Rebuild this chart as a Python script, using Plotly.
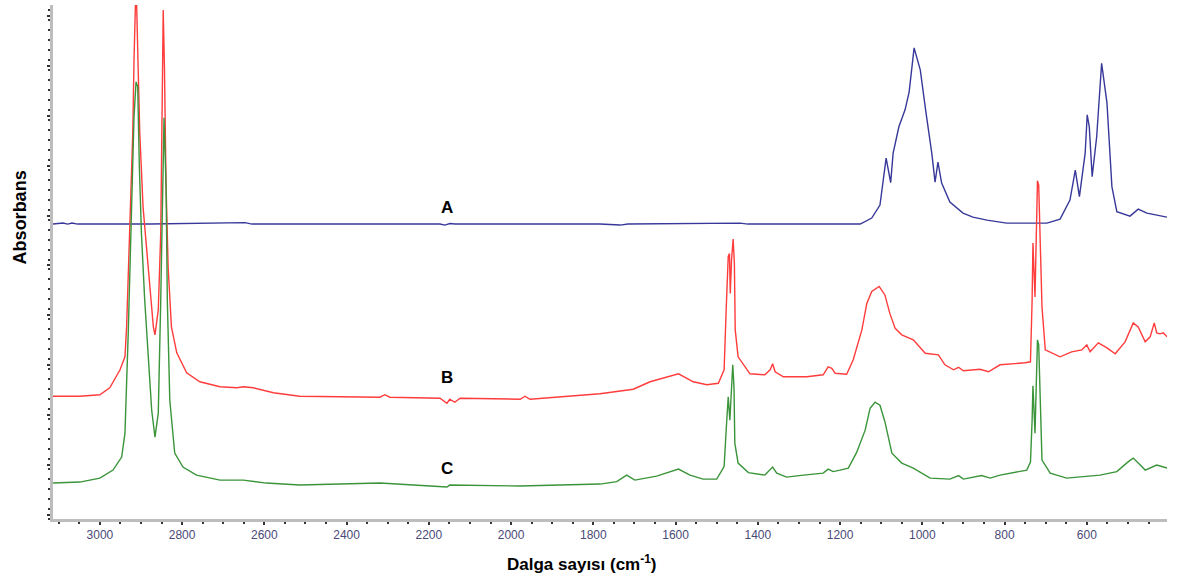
import plotly.graph_objects as go

# FTIR spectra: wavenumber (cm-1) and absorbance (offset, arbitrary units)
wn_a = [3114, 3090, 3078, 3068, 3054, 3000, 2878, 2647, 2630, 2173, 2161, 2149, 2136,
        1784, 1735, 1716, 1443, 1424, 1200, 1151, 1123, 1103, 1088, 1077, 1071, 1057,
        1042, 1032, 1020, 1005, 991, 977, 969, 962, 953, 933, 901, 877, 843, 795, 746,
        697, 665, 641, 628, 618, 604, 599, 594, 587, 576, 564, 551, 539, 527, 495, 475,
        454, 405]
abs_a = [5.91, 5.93, 5.91, 5.93, 5.91, 5.91, 5.91, 5.94, 5.91, 5.91, 5.89, 5.92, 5.91,
         5.91, 5.89, 5.91, 5.93, 5.91, 5.91, 5.91, 6.03, 6.29, 7.23, 6.74, 7.33, 7.86,
         8.20, 8.56, 9.44, 9.00, 8.14, 7.33, 6.75, 7.15, 6.73, 6.35, 6.13, 6.05, 5.99,
         5.93, 5.93, 5.93, 6.01, 6.39, 6.99, 6.46, 7.33, 8.10, 7.86, 6.86, 7.66, 9.13,
         8.34, 6.66, 6.16, 6.07, 6.21, 6.13, 6.05]

wn_b = [3114, 3049, 3000, 2976, 2951, 2939, 2935, 2927, 2920, 2917, 2912, 2907, 2903,
        2895, 2886, 2878, 2870, 2866, 2858, 2852, 2849, 2846, 2843, 2839, 2834, 2826,
        2813, 2789, 2757, 2708, 2667, 2651, 2627, 2578, 2514, 2319, 2307, 2295, 2173,
        2156, 2149, 2137, 2124, 1978, 1966, 1954, 1784, 1703, 1662, 1593, 1557, 1524,
        1496, 1482, 1477, 1472, 1469, 1467, 1464, 1460, 1457, 1455, 1448, 1419, 1383,
        1370, 1364, 1358, 1338, 1281, 1241, 1229, 1220, 1212, 1184, 1168, 1147, 1135,
        1123, 1105, 1091, 1079, 1066, 1050, 1022, 993, 961, 945, 924, 912, 900, 860,
        839, 811, 750, 737, 733, 731, 726, 720, 717, 709, 701, 665, 637, 612, 600, 592,
        572, 551, 531, 507, 487, 475, 458, 446, 436, 430, 422, 414, 405]
abs_b = [2.46, 2.46, 2.49, 2.63, 2.99, 3.25, 3.85, 5.73, 7.74, 9.20, 10.80, 9.06, 7.74,
         6.25, 5.33, 4.53, 3.85, 3.69, 4.19, 5.73, 8.40, 10.20, 9.06, 6.65, 5.05, 3.85,
         3.33, 2.93, 2.75, 2.65, 2.63, 2.65, 2.63, 2.53, 2.46, 2.44, 2.49, 2.44, 2.42,
         2.32, 2.40, 2.34, 2.42, 2.40, 2.46, 2.40, 2.51, 2.60, 2.75, 2.91, 2.75, 2.69,
         2.72, 2.99, 4.19, 5.26, 5.32, 4.52, 5.19, 5.61, 5.12, 3.79, 3.25, 2.91, 2.89,
         2.99, 3.11, 2.95, 2.85, 2.85, 2.89, 3.05, 3.02, 2.92, 2.90, 3.19, 3.79, 4.32,
         4.56, 4.66, 4.49, 4.12, 3.82, 3.69, 3.59, 3.32, 3.29, 3.09, 2.99, 3.04, 2.97,
         3.00, 2.95, 3.09, 3.13, 3.15, 4.39, 5.53, 4.45, 6.78, 6.69, 4.25, 3.39, 3.25,
         3.35, 3.39, 3.49, 3.35, 3.53, 3.43, 3.31, 3.55, 3.93, 3.85, 3.55, 3.65, 3.93,
         3.73, 3.71, 3.73, 3.65]

wn_c = [3114, 3049, 3000, 2968, 2947, 2939, 2931, 2923, 2917, 2912, 2908, 2904, 2899,
        2891, 2882, 2874, 2866, 2858, 2852, 2847, 2844, 2839, 2836, 2830, 2818, 2798,
        2765, 2708, 2651, 2595, 2514, 2319, 2156, 2149, 1978, 1784, 1743, 1719, 1699,
        1646, 1593, 1565, 1533, 1500, 1482, 1476, 1472, 1468, 1464, 1461, 1458, 1456,
        1448, 1423, 1383, 1364, 1354, 1330, 1289, 1241, 1229, 1217, 1200, 1180, 1160,
        1139, 1127, 1115, 1103, 1091, 1074, 1050, 1022, 981, 933, 912, 900, 856, 835,
        811, 746, 737, 733, 731, 726, 720, 717, 709, 689, 649, 568, 527, 499, 487, 470,
        458, 430, 414, 405]
abs_c = [0.72, 0.74, 0.82, 0.98, 1.24, 1.72, 3.73, 6.39, 8.06, 8.76, 8.66, 7.05, 5.73,
         4.39, 3.19, 2.18, 1.64, 2.12, 4.39, 6.39, 8.04, 6.65, 4.39, 2.38, 1.32, 1.04,
         0.88, 0.78, 0.78, 0.72, 0.68, 0.72, 0.64, 0.68, 0.66, 0.70, 0.75, 0.88, 0.78,
         0.86, 1.00, 0.88, 0.80, 0.80, 1.05, 1.92, 2.45, 1.98, 2.75, 3.09, 2.65, 1.52,
         1.12, 0.93, 0.88, 1.04, 0.92, 0.84, 0.88, 0.92, 1.00, 0.95, 0.98, 1.02, 1.33,
         1.78, 2.22, 2.34, 2.28, 1.95, 1.32, 1.12, 1.02, 0.82, 0.80, 0.87, 0.80, 0.87,
         0.82, 0.88, 0.98, 1.14, 1.98, 2.67, 1.72, 3.59, 3.49, 1.18, 0.92, 0.82, 0.88,
         0.95, 1.15, 1.22, 1.08, 0.98, 1.08, 1.05, 1.02]

labels = ["A", "B", "C"]
label_wn = 2156
label_abs = [6.25, 2.83, 1.02]

x_ticks = [3000, 2800, 2600, 2400, 2200, 2000, 1800, 1600, 1400, 1200, 1000, 800, 600]

FONT = "Arial, 'Liberation Sans', sans-serif"

fig = go.Figure()
series = [(wn_a, abs_a, "#38389a"), (wn_b, abs_b, "#ff3c3c"), (wn_c, abs_c, "#3a943a")]
for (xs, ys, col), name in zip(series, labels):
    fig.add_trace(go.Scatter(x=xs, y=ys, mode="lines", name=name,
                             line=dict(color=col, width=1.4), showlegend=False))

for lab, ya in zip(labels, label_abs):
    fig.add_annotation(x=label_wn, y=ya, text=f"<b>{lab}</b>", showarrow=False,
                       font=dict(family=FONT, size=17, color="#000000"))

fig.add_annotation(xref="paper", yref="paper", x=0.475, y=-0.086,
                   text="<b>Dalga sayısı (cm<sup>-1</sup>)</b>", showarrow=False,
                   font=dict(family=FONT, size=17, color="#000000"),
                   xanchor="center", yanchor="middle")
fig.add_annotation(xref="paper", yref="paper", x=-0.03, y=0.586,
                   text="<b>Absorbans</b>", showarrow=False, textangle=-90,
                   font=dict(family=FONT, size=18, color="#000000"),
                   xanchor="center", yanchor="middle")

axis_common = dict(showgrid=False, zeroline=False, showline=True, linecolor="#bdbdbd",
                   linewidth=3, ticks="outside", ticklen=3, tickwidth=2,
                   tickcolor="#333333")

fig.update_layout(
    width=1182, height=581,
    margin=dict(l=53, r=15, t=5, b=62),
    paper_bgcolor="white", plot_bgcolor="white",
    xaxis=dict(range=[3114, 405], tickvals=x_ticks,
               tickfont=dict(family=FONT, size=12, color="#4a4a78"),
               minor=dict(dtick=50, ticks="outside", ticklen=2, tickwidth=2,
                          tickcolor="#333333"),
               **axis_common),
    yaxis=dict(range=[0, 10.3], tick0=0.08, dtick=1, showticklabels=False,
               minor=dict(dtick=0.2, ticks="outside", ticklen=2, tickwidth=2,
                          tickcolor="#333333"),
               **axis_common),
)

fig.write_html("out.html")
